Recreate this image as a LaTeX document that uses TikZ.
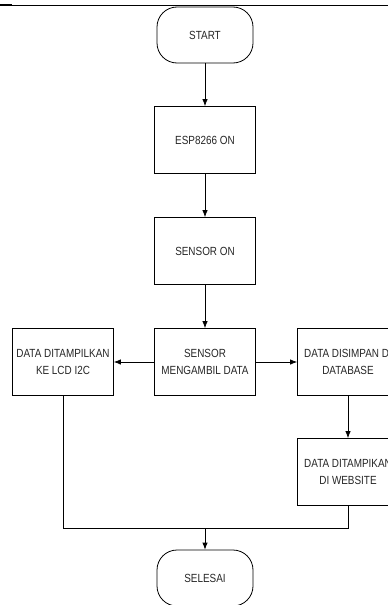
\documentclass[tikz,border=0pt]{standalone}
\usepackage{fontspec}
\usetikzlibrary{arrows.meta}
\setmainfont{Liberation Sans}
\newfontfamily\flowfont[FakeStretch=0.84]{Liberation Sans}
\begin{document}
\begin{tikzpicture}[x=1pt,y=-1pt,auto,>={Latex[length=7pt,width=5.5pt]},
  every node/.style={font=\flowfont\fontsize{11.8}{17}\selectfont,text=black!85,align=center},
  proc/.style={draw,line width=0.8pt,minimum width=101pt,minimum height=67pt,inner sep=0pt},
  term/.style={draw,line width=0.8pt,rounded corners=20pt,minimum width=96pt,minimum height=56pt}]
\useasboundingbox (0,0) rectangle (388,605);
\clip (0,0) rectangle (388,605);
\draw[line width=0.8pt] (0,5) -- (388,5);
\draw[line width=1.8pt] (0,5) -- (12,5);

\node[term] (start) at (205,35) {START};
\node[proc] (esp) at (205,140) {ESP8266 ON};
\node[proc] (son) at (205,251) {SENSOR ON};
\node[proc] (ambil) at (205,362) {SENSOR\\MENGAMBIL DATA};
\node[proc] (lcd) at (63,362) {DATA DITAMPILKAN\\KE LCD I2C};
\node[proc] (db) at (348,362) {DATA DISIMPAN DI\\DATABASE};
\node[proc] (web) at (348,472) {DATA DITAMPIKAN\\DI WEBSITE};
\node[term] (end) at (205,578) {SELESAI};
\coordinate (join) at (205,528);

\draw[->,line width=0.8pt] (start) -> (esp);
\draw[->,line width=0.8pt] (esp) -> (son);
\draw[->,line width=0.8pt] (son) -> (ambil);
\draw[->,line width=0.8pt] (ambil) -> (lcd);
\draw[->,line width=0.8pt] (ambil) -> (db);
\draw[->,line width=0.8pt] (db) -> (web);
\draw[line width=0.8pt] (lcd) |- (join);
\draw[line width=0.8pt] (web) |- (join);
\draw[->,line width=0.8pt] (join) -> (end);
\end{tikzpicture}
\end{document}
